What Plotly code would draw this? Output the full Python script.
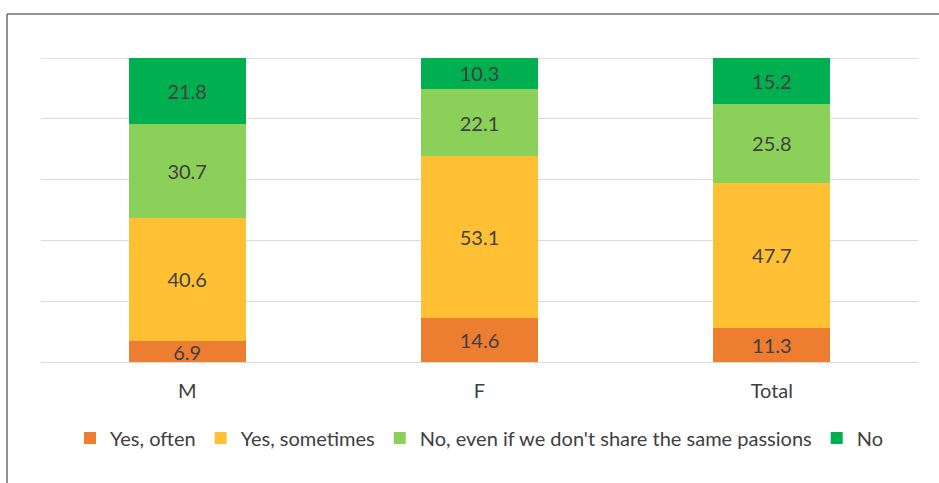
import plotly.graph_objects as go

categories = ["M", "F", "Total"]
series_names = ["Yes, often", "Yes, sometimes", "No, even if we don't share the same passions", "No"]
yes_often = [6.9, 14.6, 11.3]
yes_sometimes = [40.6, 53.1, 47.7]
no_even_if = [30.7, 22.1, 25.8]
no = [21.8, 10.3, 15.2]
colors = ["#ED7D31", "#FFC133", "#8BD058", "#00B050"]

FONT = "Lato, Open Sans, sans-serif"
TXT = "#404040"

fig = go.Figure()
for name, vals, col in zip(series_names, [yes_often, yes_sometimes, no_even_if, no], colors):
    fig.add_trace(go.Bar(
        x=categories, y=vals, name=name, marker=dict(color=col, line=dict(width=0)),
        text=[f"{v:.1f}" for v in vals], textposition="inside", insidetextanchor="middle",
        textfont=dict(color=TXT, size=20, family=FONT), constraintext="none",
    ))

W, H = 939, 483
L, R, T, B = 41, 21, 58, 121
pw, ph = W - L - R, H - T - B

def px_x(x):
    return (x - L) / pw

def px_y(y):
    return (H - B - y) / ph

fig.update_layout(
    barmode="stack", bargap=0.6, width=W, height=H,
    margin=dict(l=L, r=R, t=T, b=B),
    paper_bgcolor="white", plot_bgcolor="white",
    font=dict(family=FONT, color=TXT, size=20),
    showlegend=True,
    legend=dict(orientation="h", x=0.5, xanchor="center", y=px_y(438), yanchor="middle",
                font=dict(size=20, color=TXT, family=FONT), traceorder="normal",
                itemwidth=30, tracegroupgap=0),
    xaxis=dict(showgrid=False, showline=False, ticks="outside", ticklen=11, tickcolor="rgba(0,0,0,0)",
               tickfont=dict(size=20, color=TXT)),
    yaxis=dict(range=[0, 100], dtick=20, showticklabels=False, showgrid=True,
               gridcolor="#D9D9D9", gridwidth=1.3, zeroline=True, zerolinecolor="#D9D9D9",
               zerolinewidth=1.3, showline=False),
    shapes=[
        dict(type="line", xref="paper", yref="y", x0=0, x1=1, y0=100, y1=100, layer="below",
             line=dict(color="#D9D9D9", width=1.3)),
        dict(type="line", xref="paper", yref="paper", x0=px_x(7), x1=px_x(945), y0=px_y(14), y1=px_y(14),
             line=dict(color="#6E6E6E", width=1.5)),
        dict(type="line", xref="paper", yref="paper", x0=px_x(7), x1=px_x(7), y0=px_y(14), y1=px_y(490),
             line=dict(color="#6E6E6E", width=1.5)),
    ],
)

fig.write_html("out.html")
